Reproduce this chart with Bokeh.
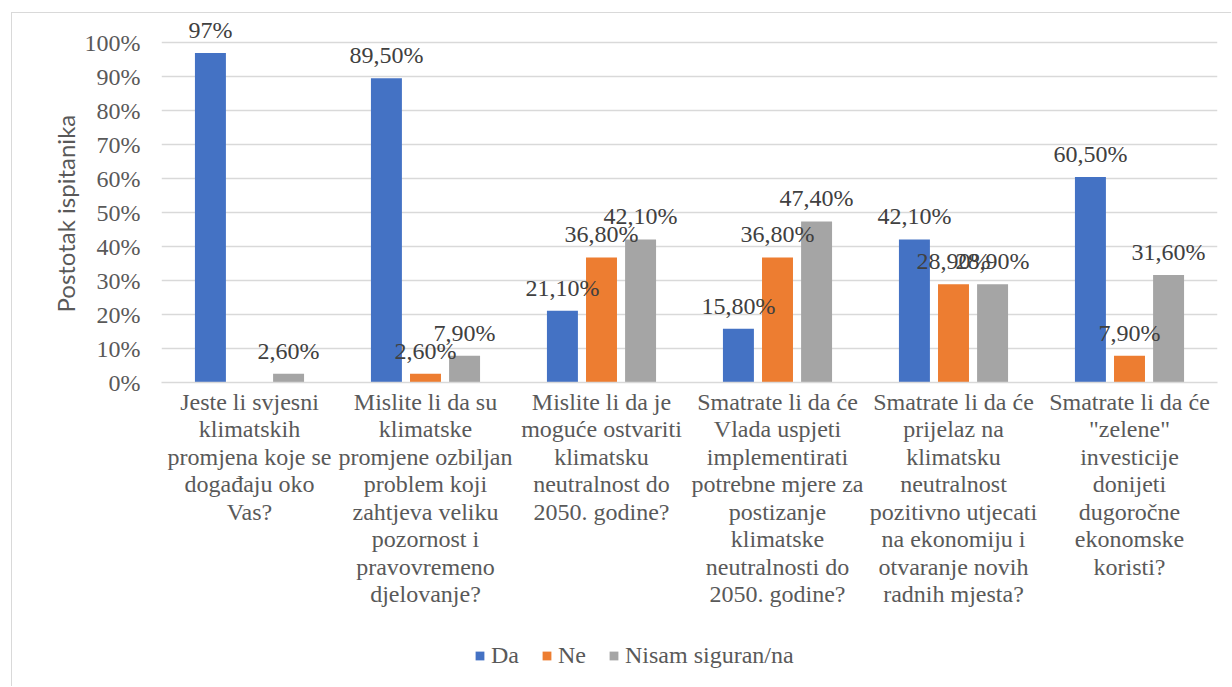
from bokeh.plotting import figure
from bokeh.models import (ColumnDataSource, FactorRange, FixedTicker, PrintfTickFormatter,
                          LabelSet, Legend, Title, Range1d)
from bokeh.layouts import column
from bokeh.transform import dodge
from bokeh.core.properties import value
from bokeh.embed import file_html
from bokeh.resources import INLINE

categories = [
    "Jeste li svjesni\nklimatskih\npromjena koje se\ndogađaju oko\nVas?",
    "Mislite li da su\nklimatske\npromjene ozbiljan\nproblem koji\nzahtjeva veliku\npozornost i\npravovremeno\ndjelovanje?",
    "Mislite li da je\nmoguće ostvariti\nklimatsku\nneutralnost do\n2050. godine?",
    "Smatrate li da će\nVlada uspjeti\nimplementirati\npotrebne mjere za\npostizanje\nklimatske\nneutralnosti do\n2050. godine?",
    "Smatrate li da će\nprijelaz na\nklimatsku\nneutralnost\npozitivno utjecati\nna ekonomiju i\notvaranje novih\nradnih mjesta?",
    "Smatrate li da će\n\"zelene\"\ninvesticije\ndonijeti\ndugoročne\nekonomske\nkoristi?",
]
series_names = ["Da", "Ne", "Nisam siguran/na"]
da = [97.0, 89.5, 21.1, 15.8, 42.1, 60.5]
ne = [None, 2.6, 36.8, 36.8, 28.9, 7.9]
nisam = [2.6, 7.9, 42.1, 47.4, 28.9, 31.6]
y_ticks = [0, 10, 20, 30, 40, 50, 60, 70, 80, 90, 100]

colors = ["#4472C4", "#ED7D31", "#A5A5A5"]
offsets = [-0.222, 0.0, 0.222]

SERIF = "Liberation Serif"
FS = "24px"


def fmt(v):
    if v is None:
        return ""
    if float(v).is_integer():
        return "%d%%" % int(v)
    return ("%.2f" % v).replace(".", ",") + "%"


p = figure(
    x_range=FactorRange(*categories, range_padding=0),
    y_range=(0, 108),
    width=1219, height=617,
    output_backend="svg", toolbar_location=None,
    min_border_left=149, min_border_right=14, min_border_top=2, min_border_bottom=248,
)
p.outline_line_color = None
p.background_fill_color = "white"
p.border_fill_color = "white"

sources = []
for name, vals, col, off in zip(series_names, [da, ne, nisam], colors, offsets):
    yv = [float("nan") if v is None else v for v in vals]
    src = ColumnDataSource(dict(cat=categories, val=yv, lab=[fmt(v) for v in vals],
                                ly=[0 if v is None else v for v in vals]))
    sources.append(src)
    p.vbar(x=dodge("cat", off, range=p.x_range), top="val", width=0.176, source=src,
           fill_color=col, line_color=None)
    labels = LabelSet(x=dodge("cat", off, range=p.x_range), y="ly", text="lab", source=src,
                      text_align="center", text_baseline="alphabetic", y_offset=15,
                      text_font=value(SERIF), text_font_size=FS, text_color="#404040")
    p.add_layout(labels)

# axes
p.yaxis.ticker = FixedTicker(ticks=y_ticks)
p.yaxis.formatter = PrintfTickFormatter(format="%d%%")
p.yaxis.axis_line_color = None
p.yaxis.major_tick_line_color = None
p.yaxis.minor_tick_line_color = None
p.yaxis.major_tick_out = 0
p.yaxis.major_tick_in = 0
p.yaxis.minor_tick_out = 0
p.yaxis.major_label_standoff = 21
p.yaxis.major_label_text_font = SERIF
p.yaxis.major_label_text_font_size = FS
p.yaxis.major_label_text_color = "#595959"

ytitle = Title(text="Postotak ispitanika", align="left", offset=70,
               text_font="Lato", text_font_style="normal", text_font_size="24px",
               text_color="#595959", standoff=4)
p.add_layout(ytitle, "left")

p.xaxis.axis_line_color = "#D9D9D9"
p.xaxis.axis_line_width = 1.5
p.xaxis.major_tick_line_color = None
p.xaxis.minor_tick_line_color = None
p.xaxis.major_tick_out = 0
p.xaxis.major_tick_in = 0
p.xaxis.major_label_standoff = 6
p.xaxis.major_label_text_font = SERIF
p.xaxis.major_label_text_font_size = FS
p.xaxis.major_label_text_color = "#595959"
p.xaxis.major_label_text_line_height = 1.06
p.xaxis.major_label_orientation = "horizontal"

p.xgrid.grid_line_color = None
p.ygrid.grid_line_color = "#D9D9D9"
p.ygrid.grid_line_width = 1.5

# legend strip (separate figure directly below the chart); its bars lie outside its view
p2 = figure(width=1219, height=56, output_backend="svg", toolbar_location=None,
            x_range=p.x_range, y_range=Range1d(1000, 1001),
            min_border_left=0, min_border_right=0, min_border_top=0, min_border_bottom=0)
p2.axis.visible = False
p2.grid.visible = False
p2.outline_line_color = None
p2.border_fill_color = "white"
legend_items = []
for name, col, off, src in zip(series_names, colors, offsets, sources):
    r = p2.vbar(x=dodge("cat", off, range=p.x_range), top="val", width=0.176, source=src,
                fill_color=col, line_color=None)
    legend_items.append((name, [r]))
legend = Legend(items=legend_items, orientation="horizontal", location=(313, 17),
                glyph_width=11, glyph_height=11, label_standoff=6, spacing=22,
                padding=0, margin=0, border_line_color=None, background_fill_alpha=0,
                label_text_font=SERIF, label_text_font_size=FS, label_text_color="#595959")
p2.add_layout(legend, "center")

layout = column(p, p2, spacing=0)
layout.margin = (12, 0, 0, 11)
layout.styles = {"border-left": "1px solid #D9D9D9", "border-top": "1px solid #D9D9D9"}

open("out.html", "w").write(file_html(layout, INLINE))
